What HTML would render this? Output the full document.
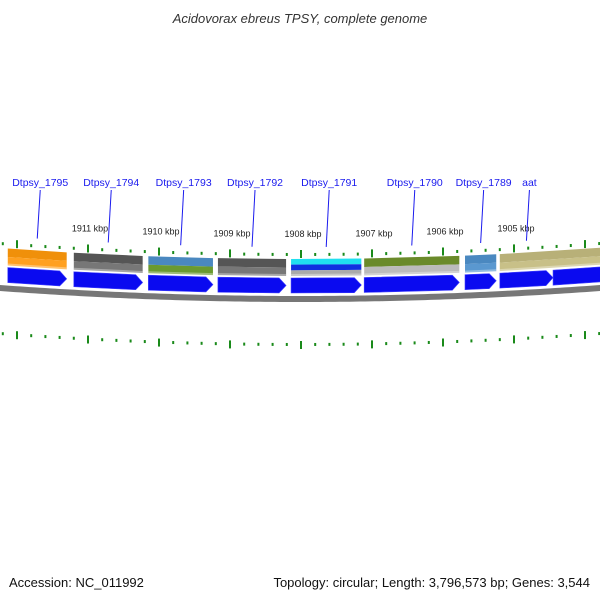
<!DOCTYPE html>
<html><head><meta charset="utf-8"><style>
body{margin:0;background:#fff;}
svg text{font-family:"Liberation Sans",sans-serif;}
</style></head><body>
<svg id="map" width="600" height="600" viewBox="0 0 600 600" xmlns="http://www.w3.org/2000/svg">
<text x="300" y="23" text-anchor="middle" font-size="13" font-style="italic" fill="#333">Acidovorax ebreus TPSY, complete genome</text>
<text x="9" y="587" font-size="13" fill="#111">Accession: NC_011992</text>
<text x="590" y="587" text-anchor="end" font-size="13" fill="#111">Topology: circular; Length: 3,796,573 bp; Genes: 3,544</text>
<g id="layer"></g>
</svg>
<script>
const kbpTicks=[1912,1911,1910,1909,1908,1907,1906,1905,1904];
const kbpLabels=["1912 kbp","1911 kbp","1910 kbp","1909 kbp","1908 kbp","1907 kbp","1906 kbp","1905 kbp","1904 kbp"];
const geneNames=["Dtpsy_1795","Dtpsy_1794","Dtpsy_1793","Dtpsy_1792","Dtpsy_1791","Dtpsy_1790","Dtpsy_1789","aat",""];
const geneStart=[1912.13,1911.20,1910.15,1909.17,1908.14,1907.11,1905.69,1905.20,1904.45];
const geneEnd=[1911.30,1910.23,1909.24,1908.21,1907.15,1905.77,1905.25,1904.45,1903.5];
const boxColors=[["#f0900a","#ffa020"],["#555","#777"],["#4a88c0","#6a9a30"],["#555","#777"],["#20e0f0","#1030e0","#aaa"],["#6a8a2a","#bbb"],["#4a88c0","#5a98d0"],["#b8b078","#c8c088"],null];
const boxStart=[1912.13,1911.20,1910.15,1909.17,1908.14,1907.11,1905.69,1905.20,1905.20];
const boxEnd=[1911.30,1910.23,1909.24,1908.21,1907.15,1905.77,1905.25,1903.5,1903.5];
const NS="http://www.w3.org/2000/svg";
const L=document.getElementById('layer');
function xs(k){return 88+(1911-k)*71;}
function y0(x){return 299-(x-300)*(x-300)/8180;}
function mk(t,a){const e=document.createElementNS(NS,t);for(const k in a)e.setAttribute(k,a[k]);L.appendChild(e);return e;}
function band(x1,x2,o1,o2,fill){return mk('polygon',{points:`${x1},${y0(x1)+o1} ${x2},${y0(x2)+o1} ${x2},${y0(x2)+o2} ${x1},${y0(x1)+o2}`,fill:fill});}
let pts=[],pts2=[];for(let x=-5;x<=605;x+=5){pts.push(`${x},${y0(x)-3}`);pts2.unshift(`${x},${y0(x)+3}`);}
let bb=mk('polygon',{points:pts.concat(pts2).join(' '),fill:'#777'});

for(let k=1912.2;k>=1903.4;k-=0.2){
  const kk=Math.round(k*10)/10;const x=xs(kk);if(x<-2||x>602)continue;
  const major=Math.abs(kk-Math.round(kk))<0.01;
  const y=y0(x);
  const t1=mk('rect',{x:x-1,y:major?y-49:y-46,width:2,height:major?8:3,fill:'#1a8a1a'});
  
  const t2=mk('rect',{x:x-1,y:major?y+42:y+44,width:2,height:major?8:3,fill:'#1a8a1a'});
  
}
kbpTicks.forEach((k,i)=>{const x=xs(k);if(x<20||x>580)return;
  const t=mk('text',{x:x+2,y:y0(x)-62,'text-anchor':'middle','font-size':'9',fill:'#222'});t.textContent=kbpLabels[i];
  });
boxColors.forEach((c,i)=>{if(!c)return;const x1=xs(boxStart[i]),x2=xs(boxEnd[i]);
  const n=c.length,h=17/n;
  c.forEach((col,j)=>{const b=band(x1,x2,-40+j*h,-40+(j+1)*h,col);
    });
  const s=band(x1,x2,-25,-22,'rgba(255,255,255,0.35)');
});
geneStart.forEach((s,i)=>{const x1=xs(s),x2=xs(geneEnd[i]);const xh=x2-7;
  const a=mk('polygon',{points:`${x1},${y0(x1)-21} ${xh},${y0(xh)-21} ${x2},${y0(x2)-13.5} ${xh},${y0(xh)-6} ${x1},${y0(x1)-6}`,fill:'#0a0af0',stroke:'#4040ff','stroke-width':'0.6'});
  
  if(geneNames[i]){const xm=(x1+x2)/2;const lx=xm+3;
    const ln=mk('line',{x1:lx,y1:190,x2:xm,y2:y0(xm)-52,stroke:'#1a1aee','stroke-width':'1'});
    
    const t=mk('text',{x:lx,y:186,'text-anchor':'middle','font-size':'10.5',fill:'#1a1aee'});t.textContent=geneNames[i];
    }
});
</script>
</body></html>
